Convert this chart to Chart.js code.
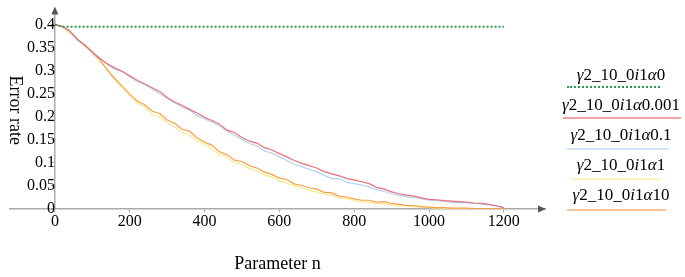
<!DOCTYPE html>
<html>
<head>
<meta charset="utf-8">
<script src="https://cdn.jsdelivr.net/npm/chart.js@4"></script>
<style>
  body { margin: 0; background: #fff; }
  #wrap { position: relative; width: 685px; height: 277px; }
  .leg { position: absolute; left: 556px; width: 130px; text-align: center;
         font: 17px "Liberation Serif", serif; color: #000; white-space: nowrap; }
  .legLine { position: absolute; height: 0; }
</style>
</head>
<body>
<div id="wrap">
  <canvas id="chart" width="685" height="277"></canvas>
  <div id="legend"></div>
</div>
<script>
// Parametro n (eje x)
const nValues = [0,20,40,60,80,100,120,140,160,180,200,220,240,260,280,300,320,340,360,380,
  400,420,440,460,480,500,520,540,560,580,600,620,640,660,680,700,720,740,760,780,
  800,820,840,860,880,900,920,940,960,980,1000,1020,1040,1060,1080,1100,1120,1140,1160,1180,1200];

// Error rate de cada serie
const alpha0 = [0.400,0.395,0.395,0.395,0.395,0.395,0.395,0.395,0.395,0.395,0.395,0.395,0.395,0.395,0.395,0.395,
  0.395,0.395,0.395,0.395,0.395,0.395,0.395,0.395,0.395,0.395,0.395,0.395,0.395,0.395,0.395,0.395,
  0.395,0.395,0.395,0.395,0.395,0.395,0.395,0.395,0.395,0.395,0.395,0.395,0.395,0.395,0.395,0.395,
  0.395,0.395,0.395,0.395,0.395,0.395,0.395,0.395,0.395,0.395,0.395,0.395,0.395];
const alpha0001 = [0.400,0.396,0.386,0.368,0.355,0.341,0.326,0.315,0.306,0.298,0.289,0.279,0.271,0.263,0.255,0.242,
  0.232,0.225,0.216,0.208,0.199,0.192,0.184,0.171,0.166,0.155,0.147,0.143,0.133,0.128,0.120,0.113,
  0.105,0.099,0.094,0.089,0.081,0.076,0.072,0.066,0.063,0.059,0.055,0.047,0.043,0.037,0.033,0.030,
  0.028,0.024,0.021,0.020,0.018,0.017,0.016,0.015,0.013,0.012,0.010,0.007,0.003];
const alpha01 = [0.400,0.396,0.384,0.366,0.356,0.339,0.328,0.313,0.303,0.299,0.286,0.276,0.270,0.260,0.250,0.240,
  0.230,0.221,0.214,0.203,0.196,0.188,0.180,0.169,0.160,0.151,0.142,0.137,0.126,0.121,0.113,0.105,
  0.097,0.092,0.086,0.081,0.073,0.066,0.066,0.058,0.055,0.052,0.048,0.042,0.038,0.033,0.030,0.027,
  0.025,0.022,0.019,0.018,0.017,0.015,0.014,0.014,0.012,0.011,0.009,0.006,0.003];
const alpha1 = [0.400,0.394,0.380,0.370,0.352,0.341,0.320,0.304,0.280,0.262,0.247,0.230,0.221,0.204,0.200,0.187,
  0.178,0.166,0.160,0.147,0.140,0.129,0.119,0.111,0.101,0.096,0.088,0.082,0.074,0.069,0.061,0.056,
  0.049,0.046,0.040,0.037,0.032,0.030,0.024,0.022,0.018,0.016,0.014,0.012,0.011,0.009,0.007,0.006,
  0.005,0.004,0.003,0.002,0.002,0.001,0.001,0.001,0.001,0.001,0.001,0.001,0.001];
const alpha10 = [0.400,0.395,0.385,0.367,0.356,0.338,0.324,0.301,0.283,0.266,0.249,0.234,0.226,0.212,0.207,0.193,
  0.186,0.173,0.169,0.154,0.145,0.138,0.124,0.118,0.106,0.103,0.094,0.089,0.080,0.075,0.067,0.064,
  0.054,0.051,0.046,0.043,0.036,0.035,0.028,0.026,0.022,0.019,0.019,0.015,0.016,0.012,0.010,0.008,
  0.007,0.005,0.004,0.003,0.003,0.002,0.002,0.002,0.001,0.001,0.001,0.001,0.001];

// Ticks
const xTicks = [0, 200, 400, 600, 800, 1000, 1200];
const yTicks = [0, 0.05, 0.1, 0.15, 0.2, 0.25, 0.3, 0.35, 0.4];

// Nombres de la leyenda (alpha = valor despues de la letra)
const alphaNames = ['0', '0.001', '0.1', '1', '10'];
const seriesData = [alpha0, alpha0001, alpha01, alpha1, alpha10];
const lineColors = ['#2a9a52', '#e8707c', '#b4d2f2', '#ffe98c', '#f7a04a'];
const legendColors = ['#2a9a52', '#f2a3aa', '#cfe1f5', '#fff2c0', '#fbc29a'];
const drawOrder = [0, 1, 2, 4, 3];

const serif = '"Liberation Serif", "Times New Roman", serif';

function toPoints(arr) {
  return nValues.map((n, i) => ({ x: n, y: arr[i] }));
}

const datasets = seriesData.map((arr, i) => ({
  label: 'γ2_10_0i1α' + alphaNames[i],
  data: toPoints(arr),
  borderColor: lineColors[i],
  borderWidth: i === 0 ? 2 : 1.2,
  borderDash: i === 0 ? [2, 2] : [],
  pointRadius: 0,
  tension: 0,
  fill: false,
  order: drawOrder[i]
}));

// Flechas al final de los ejes
const arrowPlugin = {
  id: 'arrows',
  afterDraw(chart) {
    const { ctx, chartArea } = chart;
    const x0 = chart.scales.x.getPixelForValue(0);
    const y0 = chart.scales.y.getPixelForValue(0);
    ctx.save();
    ctx.fillStyle = '#555';
    ctx.strokeStyle = '#aaa';
    ctx.lineWidth = 1.5;
    ctx.beginPath();
    ctx.moveTo(x0, chartArea.top);
    ctx.lineTo(x0, chartArea.top - 3);
    ctx.stroke();
    ctx.beginPath();
    ctx.moveTo(chartArea.right + 1, y0);
    ctx.lineTo(chartArea.right - 7, y0 - 3.5);
    ctx.lineTo(chartArea.right - 7, y0 + 3.5);
    ctx.closePath();
    ctx.fill();
    ctx.beginPath();
    ctx.moveTo(x0, chartArea.top - 5);
    ctx.lineTo(x0 - 3.5, chartArea.top + 3);
    ctx.lineTo(x0 + 3.5, chartArea.top + 3);
    ctx.closePath();
    ctx.fill();
    ctx.restore();
  }
};

new Chart(document.getElementById('chart').getContext('2d'), {
  type: 'line',
  data: { datasets: datasets },
  options: {
    responsive: false,
    animation: false,
    layout: { padding: { left: 10, top: 5, right: 140, bottom: 68 } },
    plugins: { legend: { display: false }, tooltip: { enabled: false } },
    scales: {
      x: {
        type: 'linear',
        position: { y: 0 },
        min: -120,
        max: 1310,
        afterBuildTicks: (axis) => { axis.ticks = xTicks.map(v => ({ value: v })); },
        ticks: { color: '#000', font: { family: serif, size: 16 }, padding: 0, maxRotation: 0,
                 callback: (v) => String(v) },
        grid: { display: true, drawOnChartArea: false, tickLength: 3, color: '#aaa' },
        border: { display: true, color: '#aaa', width: 1.5 },
        title: { display: true, text: 'Parameter n', color: '#000',
                 font: { family: serif, size: 18, lineHeight: 1 }, padding: { top: 24, bottom: 0 } }
      },
      y: {
        type: 'linear',
        position: { x: 0 },
        min: 0,
        max: 0.428,
        afterBuildTicks: (axis) => { axis.ticks = yTicks.map(v => ({ value: v })); },
        ticks: { color: '#000', font: { family: serif, size: 16 }, padding: 2,
                 callback: (v) => String(+v.toFixed(2)) },
        grid: { display: true, drawOnChartArea: false, tickLength: 3, color: '#aaa' },
        border: { display: true, color: '#aaa', width: 1.5 },
        title: { display: true, text: 'Error rate', color: '#000',
                 font: { family: serif, size: 18, lineHeight: 1 }, padding: { top: -4, bottom: 0 } }
      }
    }
  },
  plugins: [arrowPlugin]
});

// Leyenda a la derecha
const legendTop = [65, 95, 125, 155, 185];
const lineY = [87, 118, 149, 179, 210];
const lineSpan = [[567, 660], [563, 681], [567, 669], [570, 660], [567, 666]];
const legendEl = document.getElementById('legend');
alphaNames.forEach((a, i) => {
  const t = document.createElement('div');
  t.className = 'leg';
  t.style.top = legendTop[i] + 'px';
  t.innerHTML = '<i>γ</i>2_10_0<i>i</i>1<i>α</i>' + a;
  legendEl.appendChild(t);
  const l = document.createElement('div');
  l.className = 'legLine';
  l.style.left = lineSpan[i][0] + 'px';
  l.style.width = (lineSpan[i][1] - lineSpan[i][0]) + 'px';
  l.style.top = (lineY[i] - 1) + 'px';
  l.style.borderTop = i === 0 ? '2px dotted ' + legendColors[i] : '2px solid ' + legendColors[i];
  legendEl.appendChild(l);
});
</script>
</body>
</html>
